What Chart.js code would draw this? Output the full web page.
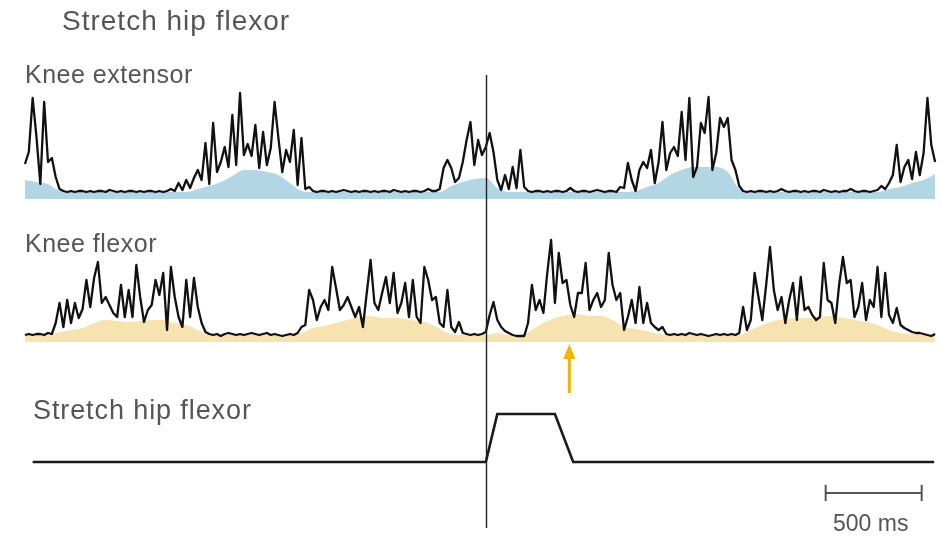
<!DOCTYPE html>
<html lang="en">
<head>
<meta charset="UTF-8">
<title>Stretch hip flexor</title>
<style>
    body {
        margin: 0;
        background: #fff;
        font-family: "Liberation Sans", Arial, sans-serif;
    }
    .figure {
        position: relative;
        width: 943px;
        height: 538px;
        overflow: hidden;
    }
    .figure canvas {
        position: absolute;
        left: 0;
        top: 0;
    }
    .lbl {
        position: absolute;
        color: #555;
        line-height: 1;
        white-space: nowrap;
    }
    .title { left: 62px; top: 7px; font-size: 28px; letter-spacing: 1px; }
    .ext { left: 25px; top: 62px; font-size: 25px; letter-spacing: 0.5px; }
    .flex { left: 25px; top: 231px; font-size: 25px; letter-spacing: 0.5px; }
    .stretch { left: 33px; top: 397px; font-size: 27px; letter-spacing: 0.9px; }
    .scale { left: 833px; top: 512px; font-size: 23px; }
</style>
</head>
<body>
<div class="figure">
    <canvas id="emgChart" width="943" height="538"></canvas>
    <div class="lbl title">Stretch hip flexor</div>
    <div class="lbl ext">Knee extensor</div>
    <div class="lbl flex">Knee flexor</div>
    <div class="lbl stretch">Stretch hip flexor</div>
    <div class="lbl scale">500 ms</div>
</div>

<script src="https://cdn.jsdelivr.net/npm/chart.js"></script>
<script>
    // EMG traces, one sample every 20 ms (arbitrary amplitude units)
    const sampleMs = 20;
    const extensorEmg = [
        28, 40, 94, 55, 8, 90, 30, 34, 15, 3,
        1, 0, 1, 0, 1, 1, 0, 1, 0, 1, 1, 0, 2, 1, 0, 1, 0, 1, 1, 0, 1, 0, 1, 1, 0, 1, 0, 1, 3, 1, 9, 2,
        12, 4, 14, 22, 12, 49, 8, 69, 20, 30, 45, 25, 77, 27, 99, 37, 48, 36, 67, 24, 60, 27, 44, 90, 54, 20, 42, 30, 62, 7, 54, 3,
        5, 1, 0, 1, 1, 0, 1, 0, 1, 2, 1, 0, 1, 0, 1, 1, 0, 1, 0, 1, 1, 0, 2, 1, 0, 1, 0, 1, 1, 0, 1, 3, 1,
        1, 3, 24, 32, 24, 10, 14, 30, 52, 70, 27, 52, 37, 45, 59, 40, 12, 2, 17, 3, 25, 4, 42, 5, 1,
        0, 1, 1, 0, 1, 0, 1, 1, 0, 1, 4, 1, 0, 1, 1, 0, 1, 2, 1, 0, 1, 1, 0, 5,
        4, 29, 12, 1, 22, 30, 24, 42, 9, 30, 70, 22, 39, 45, 36, 80, 32, 94, 15, 25, 69, 59, 95, 22, 39, 74, 65, 74, 32, 22, 6, 1,
        0, 1, 0, 1, 1, 0, 1, 0, 1, 3, 1, 0, 1, 1, 0, 1, 0, 1, 1, 0, 2, 1, 0, 1, 0, 1, 1, 3, 1, 0, 1, 1, 0, 1, 2, 6,
        3, 9, 17, 47, 10, 25, 32, 13, 40, 17, 39, 94, 47, 30
    ];
    const flexorEmg = [
        0, 1, 0, 1, 1, 0, 2, 1, 12, 32, 8, 35, 12, 32, 17, 26, 55, 28, 57, 73, 32, 38, 30, 22, 18,
        50, 18, 45, 18, 70, 38, 13, 25, 30, 55, 40, 62, 5, 68, 38, 18, 8, 55, 18, 57, 28, 12, 3, 1,
        0, 1, -1, 1, 2, 1, 0, 1, 0, 1, 2, 1, 0, 1, 2, 0, 1, 0, -1, 0, 1, 0, 2,
        8, 10, 45, 35, 15, 28, 35, 25, 68, 47, 25, 30, 38, 28, 18, 28, 8, 42, 75, 32, 25, 42, 58, 32, 62,
        22, 32, 52, 18, 55, 18, 12, 68, 55, 35, 38, 12, 8, 45, 8, 3, 13, 2, 1, 0, 1, 0, 1, 3,
        20, 33, 15, 8, 4, 2, 0, -1, -1, -1, 12, 50, 25, 35, 22, 62, 95, 32, 82, 52, 55, 30, 18, 42,
        42, 72, 25, 35, 42, 28, 35, 82, 50, 35, 42, 5, 18, 35, 12, 48, 12, 32, 12, 8, 5, 8, 1,
        0, 1, 0, 1, 0, 2, 1, 0, 1, 0, -1, 0, 1, 0, 1, 0, 1, 0, 2,
        28, 5, 15, 62, 38, 15, 50, 88, 45, 25, 38, 12, 35, 52, 15, 58, 25, 28, 20, 15, 18, 72, 35, 32, 12,
        50, 78, 52, 55, 18, 28, 52, 15, 35, 28, 68, 18, 62, 20, 12, 27, 10, 7, 5, 3, 2, 2, 1, 0, -1, 1
    ];

    // smoothed activity envelopes, one sample every 60 ms
    const envelopeMs = 60;
    const extensorEnvelope = [
        12, 10, 8, 1, 0, 0, 0, 0, 0, 0, 0, 0, 0, 0, 0,
        3, 6, 10, 16, 22, 22, 20, 17, 9, 1,
        0, 0, 0, 0, 0, 0, 0, 0, 0, 0, 0, 0,
        6, 10, 13, 14, 4,
        0, 0, 0, 0, 0, 0, 0, 0, 0, 0, 0,
        1, 5, 9, 17, 22, 25, 25, 25, 20, 3,
        0, 0, 0, 0, 0, 0, 0, 0, 0, 0, 0, 0,
        3, 5, 9, 12, 18
    ];
    const flexorEnvelope = [
        0, 0, 0, 3, 5, 7, 12, 15, 14, 13, 14, 15, 15, 12, 10, 5, 0,
        0, 0, 0, 0, 0, 0, 0,
        2, 7, 9, 12, 15, 18, 19, 17, 17, 16, 14, 12, 6, 1, 0, 0, 0, 2, 0, 0,
        5, 12, 17, 20, 21, 19, 19, 15, 8, 6, 4, 1,
        0, 0, 0, 0, 0, 0, 0,
        5, 10, 14, 16, 17, 17, 18, 19, 17, 15, 13, 10, 5, 2, 1, 0, 0
    ];

    // hip flexor stretch (0 = rest length, 1 = stretched)
    const stretchTimesMs = [40, 2400, 2460, 2760, 2855, 4735];
    const stretchLevel = [0, 0, 1, 1, 0, 0];
    const stretchOnsetMs = 2400;
    const arrowMs = 2835;
    const scaleBarMs = [4170, 4670];

    // layout (pixels)
    const H = 538;
    function bandAxis(baselinePx, pxPerUnit) {
        return {
            display: false,
            min: -(H - baselinePx) / pxPerUnit,
            max: baselinePx / pxPerUnit
        };
    }

    const toPoints = (arr, dt) => arr.map((v, i) => ({ x: i * dt, y: v }));

    const overlayPlugin = {
        id: 'overlays',
        afterDatasetsDraw(chart) {
            const { ctx, scales } = chart;
            const x = scales.x;
            ctx.save();

            // stretch onset marker
            const mx = Math.round(x.getPixelForValue(stretchOnsetMs)) + 0.5;
            ctx.strokeStyle = '#222';
            ctx.lineWidth = 1.4;
            ctx.beginPath();
            ctx.moveTo(mx, 75);
            ctx.lineTo(mx, 528);
            ctx.stroke();

            // yellow arrow under knee flexor burst
            const ax = x.getPixelForValue(arrowMs);
            ctx.strokeStyle = '#f2b400';
            ctx.fillStyle = '#f2b400';
            ctx.lineWidth = 3;
            ctx.beginPath();
            ctx.moveTo(ax, 393);
            ctx.lineTo(ax, 356);
            ctx.stroke();
            ctx.beginPath();
            ctx.moveTo(ax, 344);
            ctx.lineTo(ax - 6, 359);
            ctx.lineTo(ax + 6, 359);
            ctx.closePath();
            ctx.fill();

            // 500 ms scale bar
            const x0 = x.getPixelForValue(scaleBarMs[0]);
            const x1 = x.getPixelForValue(scaleBarMs[1]);
            ctx.strokeStyle = '#555';
            ctx.lineWidth = 2;
            ctx.beginPath();
            ctx.moveTo(x0, 493);
            ctx.lineTo(x1, 493);
            ctx.moveTo(x0, 485);
            ctx.lineTo(x0, 501);
            ctx.moveTo(x1, 485);
            ctx.lineTo(x1, 501);
            ctx.stroke();

            ctx.restore();
        }
    };

    new Chart(document.getElementById('emgChart'), {
        type: 'line',
        data: {
            datasets: [
                {
                    data: toPoints(extensorEnvelope, envelopeMs),
                    yAxisID: 'yExt',
                    borderWidth: 0,
                    backgroundColor: 'rgb(178, 214, 228)',
                    fill: { value: -7 },
                    cubicInterpolationMode: 'monotone',
                    order: 2
                },
                {
                    data: toPoints(extensorEmg, sampleMs),
                    yAxisID: 'yExt',
                    borderColor: '#111',
                    borderWidth: 2.3,
                    borderJoinStyle: 'round',
                    fill: false,
                    order: 1
                },
                {
                    data: toPoints(flexorEnvelope, envelopeMs),
                    yAxisID: 'yFlex',
                    borderWidth: 0,
                    backgroundColor: 'rgb(247, 227, 176)',
                    fill: { value: -7 },
                    cubicInterpolationMode: 'monotone',
                    order: 2
                },
                {
                    data: toPoints(flexorEmg, sampleMs),
                    yAxisID: 'yFlex',
                    borderColor: '#111',
                    borderWidth: 2.3,
                    borderJoinStyle: 'round',
                    fill: false,
                    order: 1
                },
                {
                    data: stretchTimesMs.map((t, i) => ({ x: t, y: stretchLevel[i] })),
                    yAxisID: 'yStretch',
                    borderColor: '#1a1a1a',
                    borderWidth: 2.6,
                    fill: false,
                    order: 1
                }
            ]
        },
        options: {
            responsive: false,
            animation: false,
            devicePixelRatio: 1,
            layout: { padding: 0 },
            elements: { point: { radius: 0 }, line: { tension: 0 } },
            plugins: {
                legend: { display: false },
                tooltip: { enabled: false },
                title: { display: false }
            },
            scales: {
                x: { type: 'linear', display: false, min: -130, max: 4781 },
                yExt: bandAxis(192, 1),
                yFlex: bandAxis(335, 1),
                yStretch: bandAxis(462, 48)
            }
        },
        plugins: [overlayPlugin]
    });
</script>
</body>
</html>
